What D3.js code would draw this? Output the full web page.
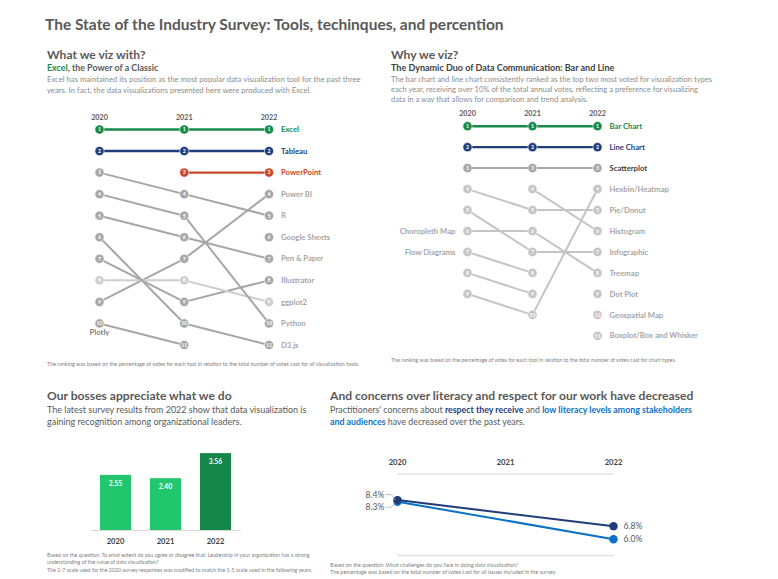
<!DOCTYPE html>
<html>
<head>
<meta charset="utf-8">
<script src="https://cdn.jsdelivr.net/npm/d3@7"></script>
<style>
  body { margin: 0; background: #fff; }
  svg { font-family: Lato, "Open Sans", sans-serif; }
</style>
</head>
<body>
<div id="chart"></div>
<script>
// ---- data ----
var years = ["2020", "2021", "2022"];

// what we viz with (tools) - rank per year, null = not ranked
var toolNames = ["Excel", "Tableau", "PowerPoint", "Power BI", "R", "Google Sheets", "Pen & Paper", "Illustrator", "ggplot2", "Python", "D3.js", "Plotly"];
var tool2020 = [1, 2, null, 9, 3, null, 5, 7, 8, 4, 6, 10];
var tool2021 = [1, 2, 3, 7, 4, null, 6, 9, 8, 5, 10, 11];
var tool2022 = [1, 2, 3, 4, 5, 6, 7, 8, 9, 10, 11, null];
var toolCount = [10, 11, 11];

// why we viz (chart types)
var chartNames = ["Bar Chart", "Line Chart", "Scatterplot", "Hexbin/Heatmap", "Pie/Donut", "Histogram", "Infographic", "Treemap", "Dot Plot", "Geospatial Map", "Boxplot/Box and Whisker", "Choropleth Map", "Flow Diagrams", ""];
var chart2020 = [1, 2, 3, 9, 4, null, 5, null, null, null, null, 6, 7, 8];
var chart2021 = [1, 2, 3, 10, 5, 4, 7, 6, null, null, null, 6, 8, 9];
var chart2022 = [1, 2, 3, 4, 5, 6, 7, 8, 9, 10, 11, null, null, null];
var chartCount = [9, 10, 11];

// leadership score
var bossYears = ["2020", "2021", "2022"];
var bossScores = [2.55, 2.40, 3.56];

// concerns (% of votes)
var concernYears = ["2020", "2021", "2022"];
var respectPct = [8.4, null, 6.8];
var literacyPct = [8.3, null, 6.0];

// ---- page ----
var W = 778, H = 579;
var green = "#178a4a", navy = "#1f3d7a", red = "#c9452a", gray = "#a6a6a6", light = "#cdcdcd";
var txt = "#595959", desc = "#8c8c8c";

var svg = d3.select("#chart").append("svg")
  .attr("width", W).attr("height", H);

svg.append("text").attr("x", 45).attr("y", 30)
  .style("font-size", "15.5px").style("font-weight", "bold").style("fill", txt)
  .text("The State of the Industry Survey: Tools, techinques, and percention");

function addLines(x, y0, lh, lines, size, color) {
  lines.forEach(function(l, i) {
    svg.append("text").attr("x", x).attr("y", y0 + i * lh)
      .style("font-size", size + "px").style("fill", color).text(l);
  });
}

// ---------- what we viz with ----------
svg.append("text").attr("x", 47).attr("y", 59)
  .style("font-size", "12.1px").style("font-weight", "bold").style("fill", txt)
  .text("What we viz with?");
var st1 = svg.append("text").attr("x", 47).attr("y", 70.5)
  .style("font-size", "8.9px").style("font-weight", "bold").style("fill", txt);
st1.append("tspan").style("fill", green).text("Excel");
st1.append("tspan").text(", the Power of a Classic");
addLines(47, 82, 11, [
  "Excel has maintained its position as the most popular data visualization tool for the past three",
  "years. In fact, the data visualizations presented here were produced with Excel."
], 7.7, desc);

function bump(opt) {
  var g = svg.append("g");
  var x = d3.scalePoint().domain(years).range(opt.xr);
  var y = d3.scaleLinear().domain([1, 11]).range(opt.yr);
  var ranks = [opt.r0, opt.r1, opt.r2];

  years.forEach(function(yr) {
    g.append("text").attr("x", x(yr)).attr("y", opt.yr[0] - 10)
      .attr("text-anchor", "middle")
      .style("font-size", "7.2px").style("font-weight", "bold").style("fill", txt)
      .text(yr);
  });

  // lines
  opt.names.forEach(function(n, i) {
    var pts = years.map(function(yr, j) { return { yr: yr, r: ranks[j][i] }; });
    for (var j = 0; j < 2; j++) {
      if (pts[j].r == null || pts[j + 1].r == null) continue;
      g.append("line")
        .attr("x1", x(pts[j].yr)).attr("y1", y(pts[j].r))
        .attr("x2", x(pts[j + 1].yr)).attr("y2", y(pts[j + 1].r))
        .attr("stroke", opt.color(n, pts[j + 1].r))
        .attr("stroke-width", opt.hl(n) ? 2.4 : 2);
    }
  });

  // circles, one for each rank in each year
  years.forEach(function(yr, j) {
    d3.range(1, opt.counts[j] + 1).forEach(function(r) {
      var idx = ranks[j].indexOf(r);
      var n = idx >= 0 ? opt.names[idx] : "";
      var c = opt.color(n, r);
      g.append("circle").attr("cx", x(yr)).attr("cy", y(r)).attr("r", 4.6)
        .attr("fill", c).attr("stroke", "#fff").attr("stroke-width", 0.6);
      g.append("text").attr("x", x(yr)).attr("y", y(r)).attr("dy", "0.35em")
        .attr("text-anchor", "middle")
        .style("font-size", "5.2px").style("font-weight", "bold").style("fill", "#fff")
        .text(r);
    });
  });

  // labels
  opt.names.forEach(function(n, i) {
    if (!n) return;
    if (opt.r2[i] != null) {
      g.append("text").attr("x", opt.xr[1] + 12).attr("y", y(opt.r2[i])).attr("dy", "0.35em")
        .style("font-size", "7.7px").style("font-weight", "bold")
        .style("fill", opt.labelColor(n))
        .text(n);
    } else if (opt.leftLabels.indexOf(n) >= 0) {
      g.append("text").attr("x", opt.xr[0] - 12).attr("y", y(opt.r0[i])).attr("dy", "0.35em")
        .attr("text-anchor", "end")
        .style("font-size", "7.7px").style("font-weight", "bold")
        .style("fill", opt.labelColor(n))
        .text(n);
    } else if (opt.belowLabels.indexOf(n) >= 0) {
      g.append("text").attr("x", opt.xr[0]).attr("y", y(opt.r0[i]) + 12)
        .attr("text-anchor", "middle")
        .style("font-size", "7.7px").style("font-weight", "bold").style("fill", "#7f7f7f")
        .text(n);
    }
  });
}

var toolHl = { "Excel": green, "Tableau": navy, "PowerPoint": red };
bump({
  xr: [99.5, 269], yr: [129.5, 345],
  names: toolNames, r0: tool2020, r1: tool2021, r2: tool2022, counts: toolCount,
  hl: function(n) { return !!toolHl[n]; },
  color: function(n) { return toolHl[n] || (n === "ggplot2" ? light : gray); },
  labelColor: function(n) { return toolHl[n] || gray; },
  leftLabels: [], belowLabels: ["Plotly"]
});

svg.append("text").attr("x", 47).attr("y", 365.5)
  .style("font-size", "5.4px").style("fill", "#7f7f7f")
  .text("The ranking was based on the percentage of votes for each tool in relation to the total number of votes cast for all visualization tools.");

// ---------- why we viz ----------
svg.append("text").attr("x", 391).attr("y", 59)
  .style("font-size", "12.1px").style("font-weight", "bold").style("fill", txt)
  .text("Why we viz?");
svg.append("text").attr("x", 391).attr("y", 70.5)
  .style("font-size", "9px").style("font-weight", "bold").style("fill", "#404040")
  .text("The Dynamic Duo of Data Communication: Bar and Line");
addLines(391, 81.5, 10.4, [
  "The bar chart and line chart consistently ranked as the top two most voted for visualization types",
  "each year, receiving over 10% of the total annual votes, reflecting a preference for visualizing",
  "data in a way that allows for comparison and trend analysis."
], 7.6, desc);

var chartHl = { "Bar Chart": green, "Line Chart": navy };
bump({
  xr: [467.5, 597.5], yr: [126.2, 335.8],
  names: chartNames, r0: chart2020, r1: chart2021, r2: chart2022, counts: chartCount,
  hl: function(n) { return !!chartHl[n]; },
  color: function(n, r) { return chartHl[n] || (r === 3 ? gray : "#c4c4c4"); },
  labelColor: function(n) { return chartHl[n] || (n === "Scatterplot" ? "#404040" : gray); },
  leftLabels: ["Choropleth Map", "Flow Diagrams"], belowLabels: []
});

svg.append("text").attr("x", 391).attr("y", 362)
  .style("font-size", "5.3px").style("fill", "#7f7f7f")
  .text("The ranking was based on the percentage of votes for each tool in relation to the total number of votes cast for chart types.");

// ---------- bosses ----------
svg.append("text").attr("x", 47).attr("y", 400)
  .style("font-size", "12.1px").style("font-weight", "bold").style("fill", txt)
  .text("Our bosses appreciate what we do");
addLines(47, 413, 12, [
  "The latest survey results from 2022 show that data visualization is",
  "gaining recognition among organizational leaders."
], 9, txt);

var bx = d3.scaleBand().domain(bossYears).range([90.5, 240.5]).paddingInner(0.38).paddingOuter(0.19);
var by = d3.scaleLinear().domain([0, 4]).range([530, 443.6]);

svg.selectAll(".bar").data(bossScores).enter().append("rect")
  .attr("x", function(d, i) { return bx(bossYears[i]); })
  .attr("y", function(d) { return by(d); })
  .attr("width", bx.bandwidth())
  .attr("height", function(d) { return by(0) - by(d); })
  .attr("fill", function(d, i) { return i === 2 ? "#15874a" : "#22c76d"; });

svg.selectAll(".barlab").data(bossScores).enter().append("text")
  .attr("x", function(d, i) { return bx(bossYears[i]) + bx.bandwidth() / 2; })
  .attr("y", function(d) { return by(d) + 11; })
  .attr("text-anchor", "middle")
  .style("font-size", "6.8px").style("font-weight", "bold").style("fill", "#fff")
  .text(function(d) { return d.toFixed(2); });

var bAxis = svg.append("g").attr("transform", "translate(0," + by(0) + ")")
  .call(d3.axisBottom(bx).tickSize(0).tickPadding(9));
bAxis.select(".domain").attr("stroke", "#d9d9d9").attr("stroke-width", 1.2);
bAxis.selectAll("text").style("font-size", "7.6px").style("font-weight", "bold")
  .style("fill", "#404040").style("font-family", "Lato, sans-serif");

addLines(47, 556.5, 7.6, [
  "Based on the question: To what extent do you agree or disagree that: Leadership in your organization has a strong",
  "understanding of the value of data visualization?",
  "The 1-7 scale used for the 2020 survey responses was modified to match the 1-5 scale used in the following years."
], 5.3, "#7f7f7f");

// ---------- concerns ----------
svg.append("text").attr("x", 330).attr("y", 400)
  .style("font-size", "12.1px").style("font-weight", "bold").style("fill", txt)
  .text("And concerns over literacy and respect for our work have decreased");
var d1 = svg.append("text").attr("x", 330).attr("y", 413)
  .style("font-size", "8.8px").style("fill", txt);
d1.append("tspan").text("Practitioners' concerns about ");
d1.append("tspan").style("font-weight", "bold").style("fill", navy).text("respect they receive");
d1.append("tspan").text(" and ");
d1.append("tspan").style("font-weight", "bold").style("fill", "#0a72c6").text("low literacy levels among stakeholders");
var d2 = svg.append("text").attr("x", 330).attr("y", 425)
  .style("font-size", "8.8px").style("fill", txt);
d2.append("tspan").style("font-weight", "bold").style("fill", "#0a72c6").text("and audiences");
d2.append("tspan").text(" have decreased over the past years.");

var lx = d3.scalePoint().domain(concernYears).range([397.5, 613.5]);
var ly = d3.scaleLinear().domain([5, 10]).range([555.5, 474]);

[10, 5].forEach(function(v) {
  svg.append("line").attr("x1", lx.range()[0]).attr("x2", lx.range()[1])
    .attr("y1", ly(v)).attr("y2", ly(v))
    .attr("stroke", "#e3e3e3").attr("stroke-width", 1.5);
});
concernYears.forEach(function(yr) {
  svg.append("text").attr("x", lx(yr)).attr("y", 464.5).attr("text-anchor", "middle")
    .style("font-size", "7.6px").style("font-weight", "bold").style("fill", "#404040")
    .text(yr);
});

var series = [
  { vals: literacyPct, color: "#0a72c6", side: 1 },
  { vals: respectPct, color: navy, side: -1 }
];
var line = d3.line()
  .defined(function(d) { return d.v != null; })
  .x(function(d) { return lx(d.yr); })
  .y(function(d) { return ly(d.v); });

series.forEach(function(s) {
  var pts = concernYears.map(function(yr, i) { return { yr: yr, v: s.vals[i] }; })
    .filter(function(d) { return d.v != null; });
  svg.append("path").datum(pts).attr("d", line)
    .attr("fill", "none").attr("stroke", s.color).attr("stroke-width", 2);
  svg.selectAll(null).data(pts).enter().append("circle")
    .attr("cx", function(d) { return lx(d.yr); })
    .attr("cy", function(d) { return ly(d.v); })
    .attr("r", 4.2).attr("fill", s.color);

  var first = pts[0], last = pts[pts.length - 1];
  var fy = ly(first.v) + s.side * 5.5;
  svg.append("polyline")
    .attr("points", [[lx(first.yr) - 12, fy], [lx(first.yr) - 6, fy], [lx(first.yr) - 2, ly(first.v)]].join(" "))
    .attr("fill", "none").attr("stroke", "#a6a6a6").attr("stroke-width", 0.7);
  svg.append("text").attr("x", lx(first.yr) - 13).attr("y", fy).attr("dy", "0.35em")
    .attr("text-anchor", "end")
    .style("font-size", "8.6px").style("fill", txt)
    .text(first.v.toFixed(1) + "%");
  svg.append("text").attr("x", lx(last.yr) + 10).attr("y", ly(last.v)).attr("dy", "0.35em")
    .style("font-size", "8.6px").style("fill", txt)
    .text(last.v.toFixed(1) + "%");
});

addLines(330, 566.5, 7.8, [
  "Based on the question: What challenges do you face in doing data visualization?",
  "The percentage was based on the total number of votes cast for all issues included in the survey."
], 5.4, "#7f7f7f");
</script>
</body>
</html>
